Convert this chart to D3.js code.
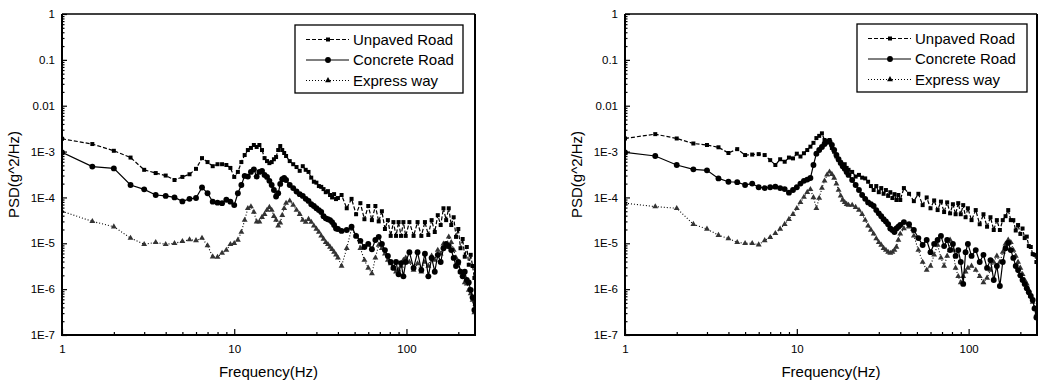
<!DOCTYPE html>
<html><head><meta charset="utf-8">
<script src="https://cdn.jsdelivr.net/npm/d3@7/dist/d3.min.js"></script>
<style>
body{margin:0;background:#fff}
svg{display:block}
text{font-family:"Liberation Sans",Arial,sans-serif;fill:#000}
</style>
</head><body>
<svg id="c" width="1039" height="387"></svg>
<script>
// ---------------- DATA ----------------
const seriesNames = ["Unpaved Road", "Concrete Road", "Express way"];
const xTickValues = [1, 10, 100];
const xTickLabels = ["1", "10", "100"];
const yTickValues = [1, 0.1, 0.01, 1e-3, 1e-4, 1e-5, 1e-6, 1e-7];
const yTickLabels = ["1", "0.1", "0.01", "1E-3", "1E-4", "1E-5", "1E-6", "1E-7"];
const xTitle = "Frequency(Hz)";
const yTitle = "PSD(g^2/Hz)";
const freqDomain = [1, 250];
const psdDomain = [1e-7, 1];

const freqHz = [1,1.5,2,2.5,3,3.5,4,4.5,5,5.5,6,6.5,7,7.5,8,8.5,9,9.5,10,10.5,
  11,11.5,12,12.5,13,13.5,14,14.5,15,15.5,16,16.5,17,17.5,18,18.5,19,19.5,20,
  21,22,23,24,25,26,27,28,29,30,31,32,33,34,35,36,37,38,39,40,
  42,45,48,51,54,57,60,63,66,69,72,75,78,81,84,87,90,93,96,99,
  104,110,116,122,128,134,140,146,152,158,164,170,176,182,188,194,200,206,212,218,224,230,236,242,248];

// Left panel
const unpavedLeft = [1.9e-3,1.46e-3,1.04e-3,7.4e-4,4.0e-4,3.4e-4,3.0e-4,2.4e-4,2.8e-4,3.2e-4,
  4.2e-4,7.2e-4,5.9e-4,4.8e-4,5.3e-4,5.3e-4,5.1e-4,4.4e-4,2.8e-4,3.6e-4,
  5.9e-4,8.4e-4,1.08e-3,1.2e-3,1.39e-3,1.26e-3,1.39e-3,1.08e-3,7.2e-4,6.2e-4,
  5.6e-4,5.9e-4,6.8e-4,7.6e-4,1.08e-3,1.32e-3,1.08e-3,9.3e-4,8.0e-4,
  6.2e-4,5.3e-4,4.6e-4,3.8e-4,4.8e-4,4.0e-4,3.6e-4,2.7e-4,2.2e-4,2.1e-4,
  1.77e-4,1.7e-4,1.52e-4,1.3e-4,1.37e-4,1.13e-4,1.0e-4,1.18e-4,9.2e-5,9.7e-5,
  1.13e-4,5.8e-5,9.3e-5,4.3e-5,7.5e-5,3.35e-5,6.5e-5,3.2e-5,6.5e-5,3.0e-5,
  5.0e-5,2.05e-5,3.2e-5,1.45e-5,2.9e-5,1.45e-5,2.9e-5,1.45e-5,2.9e-5,1.45e-5,
  2.9e-5,1.45e-5,2.9e-5,1.45e-5,2.9e-5,1.52e-5,3.2e-5,1.76e-5,4.1e-5,2.5e-5,
  5.8e-5,3.2e-5,5.8e-5,2.5e-5,3.7e-5,1.38e-5,2.05e-5,7.8e-6,1.24e-5,5.1e-6,
  8.3e-6,3.4e-6,5.6e-6,3.2e-6,1.75e-6];
const concreteLeft = [9.6e-4,4.7e-4,4.3e-4,1.87e-4,1.5e-4,1.13e-4,1.08e-4,1.0e-4,8.2e-5,9.3e-5,
  9.7e-5,1.65e-4,1.23e-4,8.1e-5,7.7e-5,7.5e-5,8.9e-5,8.1e-5,6.8e-5,1.23e-4,
  1.87e-4,2.95e-4,2.85e-4,3.6e-4,4.1e-4,2.85e-4,3.6e-4,3.8e-4,3.1e-4,2.8e-4,
  2.3e-4,1.87e-4,1.45e-4,1.05e-4,1.23e-4,1.97e-4,2.5e-4,2.65e-4,2.4e-4,
  1.87e-4,1.6e-4,1.35e-4,1.18e-4,1.08e-4,9.3e-5,8.4e-5,7.1e-5,6.5e-5,5.8e-5,
  5.3e-5,4.8e-5,3.9e-5,3.5e-5,3.35e-5,3.2e-5,2.9e-5,2.5e-5,2.1e-5,2.05e-5,
  1.86e-5,1.95e-5,2.3e-5,1.45e-5,1.13e-5,8.3e-6,9.7e-6,7.4e-6,1.18e-5,1.38e-5,
  9.7e-6,7.1e-6,5.3e-6,3.9e-6,2.9e-6,3.9e-6,2.1e-6,3.7e-6,1.9e-6,3.9e-6,
  6.4e-6,2.9e-6,6.4e-6,2.6e-6,5.9e-6,1.9e-6,4.8e-6,2.4e-6,5.6e-6,3.9e-6,
  7.8e-6,9.7e-6,8.7e-6,7.1e-6,4.8e-6,3.2e-6,3.9e-6,2.4e-6,1.9e-6,2.4e-6,
  1.58e-6,1.4e-6,9.6e-7,6.6e-7,3.5e-7];
const expressLeft = [5.0e-5,3.0e-5,2.3e-5,1.3e-5,9.5e-6,1.05e-5,9.5e-6,1.0e-5,1.1e-5,1.2e-5,
  1.15e-5,1.3e-5,8.9e-6,5.1e-6,5.0e-6,6.1e-6,7.1e-6,9.5e-6,1.0e-5,1.18e-5,
  1.76e-5,3.2e-5,5.8e-5,6.3e-5,4.8e-5,2.95e-5,2.95e-5,3.7e-5,4.3e-5,5.3e-5,
  6.1e-5,5.3e-5,3.9e-5,3.2e-5,2.4e-5,2.8e-5,4.1e-5,5.8e-5,7.5e-5,
  8.4e-5,6.8e-5,5.3e-5,4.3e-5,3.2e-5,2.9e-5,3.35e-5,2.9e-5,2.4e-5,2.05e-5,
  1.76e-5,1.45e-5,1.24e-5,1.05e-5,9.5e-6,8.3e-6,7.4e-6,6.4e-6,5.6e-6,4.8e-6,
  3.2e-6,7.8e-6,2.1e-5,1.45e-5,7.8e-6,4.3e-6,2.9e-6,2.2e-6,4.8e-6,9.2e-6,
  7.8e-6,5.9e-6,4.3e-6,3.6e-6,2.9e-6,2.4e-6,2.6e-6,3.2e-6,4.3e-6,4.8e-6,
  3.9e-6,2.6e-6,3.6e-6,2.4e-6,3.9e-6,3.2e-6,5.3e-6,4.3e-6,7.1e-6,5.9e-6,
  9.7e-6,8.3e-6,1.38e-5,1.05e-5,7.1e-6,4.8e-6,3.6e-6,2.4e-6,2.0e-6,1.4e-6,
  1.3e-6,9.6e-7,8.0e-7,5.8e-7,3.1e-7];

// Right panel
const unpavedRight = [1.93e-3,2.4e-3,1.93e-3,1.5e-3,1.39e-3,1.24e-3,9.3e-4,1.13e-3,8.4e-4,8.6e-4,
  8.8e-4,8.4e-4,6.5e-4,5.1e-4,6.8e-4,6.0e-4,7.4e-4,7.1e-4,9.0e-4,7.8e-4,
  9.2e-4,1.08e-3,1.28e-3,1.55e-3,1.97e-3,2.2e-3,2.5e-3,1.79e-3,1.65e-3,1.79e-3,
  1.2e-3,9.9e-4,7.8e-4,6.5e-4,5.9e-4,5.1e-4,5.3e-4,4.4e-4,4.0e-4,
  3.6e-4,2.85e-4,3.1e-4,2.7e-4,2.6e-4,2.2e-4,1.77e-4,1.45e-4,1.77e-4,1.3e-4,
  1.6e-4,1.2e-4,1.45e-4,1.08e-4,1.3e-4,9.7e-5,1.18e-4,8.8e-5,1.13e-4,8.8e-5,
  1.6e-4,1.2e-4,8.3e-5,1.2e-4,6.8e-5,1.0e-4,5.8e-5,8.6e-5,5.3e-5,8.1e-5,
  4.8e-5,7.8e-5,4.5e-5,7.1e-5,4.3e-5,7.5e-5,4.3e-5,6.8e-5,3.7e-5,5.8e-5,
  3.2e-5,5.3e-5,2.6e-5,4.3e-5,2.3e-5,3.7e-5,1.95e-5,3.2e-5,1.95e-5,3.2e-5,
  3.9e-5,5.3e-5,3.2e-5,3.2e-5,1.9e-5,2.5e-5,1.6e-5,2.1e-5,1.3e-5,1.4e-5,
  8.7e-6,8.3e-6,5.8e-6,5.6e-6,3.9e-6];
const concreteRight = [9.6e-4,8.0e-4,5.1e-4,4.1e-4,3.9e-4,2.6e-4,2.2e-4,2.15e-4,1.87e-4,2.0e-4,
  1.67e-4,1.6e-4,1.67e-4,1.72e-4,1.6e-4,1.52e-4,1.27e-4,1.45e-4,1.67e-4,2.0e-4,
  2.3e-4,2.45e-4,2.65e-4,5.1e-4,9.0e-4,1.08e-3,1.26e-3,1.46e-3,1.63e-3,1.65e-3,
  1.39e-3,1.08e-3,8.4e-4,6.8e-4,5.6e-4,4.8e-4,4.2e-4,3.6e-4,3.1e-4,
  2.4e-4,1.87e-4,1.45e-4,1.13e-4,9.3e-5,7.8e-5,7.1e-5,6.5e-5,5.3e-5,4.5e-5,
  3.9e-5,3.35e-5,3.0e-5,2.6e-5,2.1e-5,1.95e-5,1.76e-5,2.1e-5,2.3e-5,2.5e-5,
  2.9e-5,2.6e-5,1.95e-5,1.3e-5,9.2e-6,1.18e-5,6.4e-6,9.7e-6,1.18e-5,1.45e-5,
  8.7e-6,1.18e-5,7.1e-6,9.7e-6,5.3e-6,7.1e-6,3.9e-6,1.3e-6,6.4e-6,9.7e-6,
  5.3e-6,7.1e-6,3.9e-6,5.6e-6,2.9e-6,4.3e-6,1.58e-6,3.2e-6,1.17e-6,3.9e-6,
  7.8e-6,1.02e-5,7.1e-6,4.8e-6,3.2e-6,2.6e-6,2.0e-6,1.58e-6,1.3e-6,1.05e-6,
  8.6e-7,7.1e-7,5.8e-7,3.8e-7,2.4e-7];
const expressRight = [7.5e-5,6.3e-5,5.8e-5,2.6e-5,2.05e-5,1.5e-5,1.27e-5,1.05e-5,1.0e-5,1.0e-5,
  9.3e-6,1.15e-5,1.35e-5,1.65e-5,2.05e-5,2.6e-5,3.35e-5,4.3e-5,5.8e-5,7.8e-5,
  1.02e-4,1.3e-4,1.5e-4,1.0e-4,5.8e-5,9.7e-5,1.6e-4,2.3e-4,3.1e-4,3.6e-4,
  3.2e-4,2.65e-4,1.97e-4,1.45e-4,1.08e-4,8.8e-5,7.8e-5,7.1e-5,6.8e-5,
  6.8e-5,6.1e-5,5.3e-5,4.3e-5,3.2e-5,2.4e-5,1.95e-5,1.6e-5,1.27e-5,1.05e-5,
  9.2e-6,7.8e-6,7.1e-6,6.4e-6,6.1e-6,6.4e-6,7.1e-6,8.3e-6,1.18e-5,1.6e-5,
  2.1e-5,2.3e-5,1.45e-5,7.1e-6,3.9e-6,2.6e-6,3.2e-6,5.6e-6,9.2e-6,4.8e-6,
  3.2e-6,5.3e-6,1.18e-5,7.1e-6,2.9e-6,1.9e-6,1.4e-6,1.9e-6,2.4e-6,2.9e-6,
  3.2e-6,2.6e-6,1.9e-6,1.4e-6,1.75e-6,2.6e-6,3.9e-6,5.3e-6,3.9e-6,6.4e-6,
  9.7e-6,1.18e-5,1.05e-5,7.1e-6,5.3e-6,3.9e-6,2.9e-6,2.1e-6,1.58e-6,1.3e-6,
  9.6e-7,7.1e-7,5.2e-7,3.8e-7,2.8e-7];

// ---------------- DRAW ----------------
const svg = d3.select("#c");
const yTop = 14, yBot = 335;
const panels = [
  {x0: 62, x1: 475, series: [unpavedLeft, concreteLeft, expressLeft], leg: {x: 295, y: 25, w: 168, h: 68}},
  {x0: 625, x1: 1037, series: [unpavedRight, concreteRight, expressRight], leg: {x: 857, y: 24, w: 170, h: 68}}
];
const styles = [
  {symbol: d3.symbolSquare, size: 16, dash: "4,2", width: 1.2},
  {symbol: d3.symbolCircle, size: 27, dash: null, width: 1.2},
  {symbol: d3.symbolTriangle, size: 15, dash: "1,2", width: 1.1}
];

const minorX = [2,3,4,5,6,7,8,9,20,30,40,50,60,70,80,90,200];
const minorY = [];
for (let e = -7; e < 0; e++) for (let m = 2; m <= 9; m++) minorY.push(m * Math.pow(10, e));

panels.forEach(p => {
  const x = d3.scaleLog().domain(freqDomain).range([p.x0, p.x1]);
  const y = d3.scaleLog().domain(psdDomain).range([yBot, yTop]);
  const g = svg.append("g");

  const clipId = "clip" + p.x0;
  svg.append("clipPath").attr("id", clipId).append("rect")
    .attr("x", p.x0).attr("y", yTop).attr("width", p.x1 - p.x0 + 1).attr("height", yBot - yTop);

  const plot = g.append("g").attr("clip-path", `url(#${clipId})`);
  [2, 1, 0].forEach(si => {
    const vals = p.series[si];
    const pts = freqHz.map((f, i) => [f, vals[i]]);
    const st = styles[si];
    plot.append("path")
      .attr("d", d3.line().x(d => x(d[0])).y(d => y(d[1]))(pts))
      .attr("fill", "none").attr("stroke", "#000").attr("stroke-width", st.width)
      .attr("stroke-dasharray", st.dash);
    plot.selectAll(null).data(pts).enter().append("path")
      .attr("d", d3.symbol().type(st.symbol).size(st.size))
      .attr("transform", d => `translate(${x(d[0])},${y(d[1])})`)
      .attr("fill", si === 2 ? "#333" : "#000");
  });

  const xAxis = d3.axisBottom(x).tickValues(xTickValues)
    .tickFormat((d, i) => xTickLabels[i]).tickSizeInner(-6).tickSizeOuter(0).tickPadding(10);
  const xa = g.append("g").attr("transform", `translate(0,${yBot})`).call(xAxis);
  const xMinor = d3.axisBottom(x).tickValues(minorX).tickFormat("").tickSizeInner(-3).tickSizeOuter(0);
  const xm = g.append("g").attr("transform", `translate(0,${yBot})`).call(xMinor);

  const yAxis = d3.axisLeft(y).tickValues(yTickValues)
    .tickFormat((d, i) => yTickLabels[i]).tickSizeInner(-5).tickSizeOuter(0).tickPadding(7);
  const ya = g.append("g").attr("transform", `translate(${p.x0},0)`).call(yAxis);
  const yMinor = d3.axisLeft(y).tickValues(minorY).tickFormat("").tickSizeInner(-2.5).tickSizeOuter(0);
  const ym = g.append("g").attr("transform", `translate(${p.x0},0)`).call(yMinor);

  [xa, xm, ya, ym].forEach(a => {
    a.select(".domain").remove();
    a.selectAll("line").attr("stroke", "#000").attr("stroke-width", 1.2);
    a.selectAll("text").attr("font-size", 11.5).attr("font-family", '"Liberation Sans",Arial,sans-serif').attr("fill", "#000");
  });

  g.append("line").attr("x1", p.x0).attr("x2", p.x1).attr("y1", yTop).attr("y2", yTop).attr("stroke", "#000").attr("stroke-width", 1.3);
  g.append("line").attr("x1", p.x1).attr("x2", p.x1).attr("y1", yTop).attr("y2", yBot).attr("stroke", "#000").attr("stroke-width", 2);
  g.append("line").attr("x1", p.x0).attr("x2", p.x0).attr("y1", yTop).attr("y2", yBot + 1).attr("stroke", "#000").attr("stroke-width", 2);
  g.append("line").attr("x1", p.x0 - 1).attr("x2", p.x1 + 1).attr("y1", yBot).attr("y2", yBot).attr("stroke", "#000").attr("stroke-width", 2.2);

  g.append("text").attr("x", (p.x0 + p.x1) / 2).attr("y", 377).attr("text-anchor", "middle")
    .attr("font-size", 15).text(xTitle);
  g.append("text").attr("transform", `translate(${p.x0 - 43},${(yTop + yBot) / 2}) rotate(-90)`)
    .attr("text-anchor", "middle").attr("font-size", 15).text(yTitle);

  const L = p.leg;
  const lg = g.append("g");
  lg.append("rect").attr("x", L.x).attr("y", L.y).attr("width", L.w).attr("height", L.h)
    .attr("fill", "#fff").attr("stroke", "#000").attr("stroke-width", 1.3);
  seriesNames.forEach((name, i) => {
    const st = styles[i];
    const cy = L.y + 14.5 + i * 20.5;
    lg.append("line").attr("x1", L.x + 11).attr("x2", L.x + 54).attr("y1", cy).attr("y2", cy)
      .attr("stroke", "#000").attr("stroke-width", 1).attr("stroke-dasharray", st.dash);
    lg.append("path").attr("d", d3.symbol().type(st.symbol).size(st.size)())
      .attr("transform", `translate(${L.x + 33},${cy})`).attr("fill", "#000");
    lg.append("text").attr("x", L.x + 58).attr("y", cy).attr("dy", "0.36em")
      .attr("font-size", 15).text(name);
  });
});
</script>
</body></html>
